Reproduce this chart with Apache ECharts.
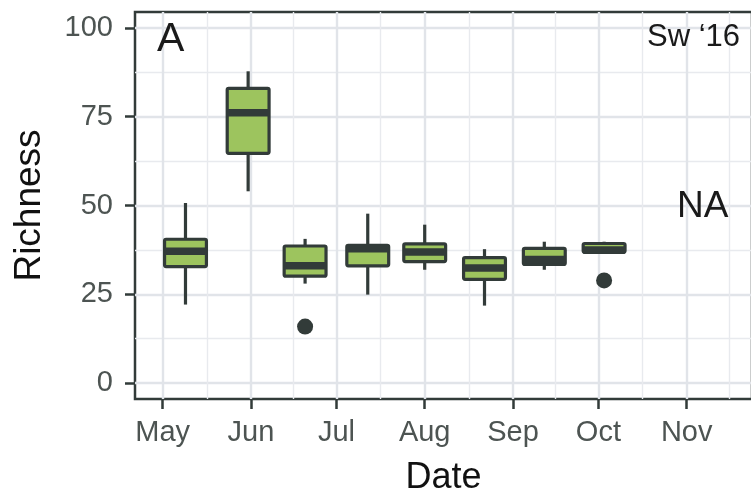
<!DOCTYPE html>
<html>
<head>
<meta charset="utf-8">
<title>Richness Sw '16</title>
<script src="https://cdn.jsdelivr.net/npm/echarts@6/dist/echarts.min.js"></script>
<style>
  html, body { margin: 0; padding: 0; background: #fff; }
  #chart { width: 751px; height: 495px; }
</style>
</head>
<body>
<div id="chart"></div>
<script>
// sampling dates and box stats
const boxDates = ['2016-05-09', '2016-05-31', '2016-06-20', '2016-07-12', '2016-08-01', '2016-08-22', '2016-09-12', '2016-10-03'];
const whiskerLow = [22.1, 54.0, 28.0, 24.9, 31.9, 21.8, 31.9, 36.8];
const q1 = [32.8, 64.7, 30.1, 33.0, 34.2, 29.2, 33.4, 36.8];
const median = [37.1, 76.1, 33.0, 37.8, 36.9, 32.4, 34.8, 37.5];
const q3 = [40.5, 83.0, 38.6, 38.8, 39.2, 35.3, 37.9, 39.3];
const whiskerHigh = [50.7, 87.8, 40.6, 47.7, 44.6, 37.7, 39.8, 39.8];

const outlierDates = ['2016-06-20', '2016-10-03'];
const outlierValues = [15.9, 28.9];

// axes
const monthTicks = ['2016-05-01', '2016-06-01', '2016-07-01', '2016-08-01', '2016-09-01', '2016-10-01', '2016-11-01'];
const monthLabels = ['May', 'Jun', 'Jul', 'Aug', 'Sep', 'Oct', 'Nov'];
const monthMinor = ['2016-05-16T12:00', '2016-06-16T00:00', '2016-07-16T12:00', '2016-08-16T12:00', '2016-09-16T00:00', '2016-10-16T12:00', '2016-11-16T00:00'];
const xLimits = ['2016-04-21T06:30', '2016-11-23T22:20'];
const yTicks = [0, 25, 50, 75, 100];
const yMinor = [12.5, 37.5, 62.5, 87.5];
const yLimits = [-4.5, 104.5];

const DAY = 86400000;
const BOX_WIDTH_DAYS = 14.7;

const toMs = (s) => Date.parse(s.length === 10 ? s + 'T00:00:00Z' : s + ':00Z');

const FONT = 'Liberation Sans';
const DARK = '#323b39';
const FILL = '#9dc45e';
const GRID_MAJOR = '#e1e4e9';
const GRID_MINOR = '#e8eaee';
const NO_LINE = { show: false, onZero: false, lineStyle: { color: 'rgba(0,0,0,0)', width: 0 } };

const boxData = boxDates.map((d, i) => [toMs(d), whiskerLow[i], q1[i], median[i], q3[i], whiskerHigh[i]]);
const outlierData = outlierDates.map((d, i) => [toMs(d), outlierValues[i]]);
const monthMs = monthTicks.map(toMs);

const renderBox = (params, api) => {
  const x = api.value(0);
  const low = api.coord([x, api.value(1)]);
  const lo = api.coord([x, api.value(2)]);
  const mid = api.coord([x, api.value(3)]);
  const hi = api.coord([x, api.value(4)]);
  const high = api.coord([x, api.value(5)]);
  const half = api.size([BOX_WIDTH_DAYS * DAY, 0])[0] / 2;
  return {
    type: 'group',
    children: [
      {
        type: 'line',
        shape: { x1: low[0], y1: low[1], x2: high[0], y2: high[1] },
        style: { stroke: DARK, lineWidth: 3.2 }
      },
      {
        type: 'rect',
        shape: { x: hi[0] - half, y: hi[1], width: half * 2, height: lo[1] - hi[1], r: 1.5 },
        style: { fill: FILL, stroke: DARK, lineWidth: 3.2, lineJoin: 'round' }
      },
      {
        type: 'line',
        shape: { x1: mid[0] - half, y1: mid[1], x2: mid[0] + half, y2: mid[1] },
        style: { stroke: DARK, lineWidth: 7.5 }
      }
    ]
  };
};

const chart = echarts.init(document.getElementById('chart'));
chart.setOption({
  animation: false,
  backgroundColor: '#fff',
  textStyle: { fontFamily: FONT },
  grid: {
    left: 135,
    top: 12,
    width: 617,
    height: 387,
    show: true,
    backgroundColor: 'transparent',
    borderColor: DARK,
    borderWidth: 2.5,
    containLabel: false,
    outerBoundsMode: 'none'
  },
  xAxis: [
    {
      type: 'value',
      min: toMs(xLimits[0]),
      max: toMs(xLimits[1]),
      name: 'Date',
      nameLocation: 'middle',
      nameGap: 61,
      nameTextStyle: { fontSize: 36, color: '#111', fontFamily: FONT },
      axisLine: NO_LINE,
      axisTick: {
        show: true,
        length: 10,
        customValues: monthMs,
        lineStyle: { color: DARK, width: 2.5 }
      },
      axisLabel: {
        customValues: monthMs,
        margin: 19,
        fontSize: 29,
        color: '#4d5452',
        fontFamily: FONT,
        formatter: (v) => monthLabels[monthMs.indexOf(v)] || ''
      },
      splitLine: { show: true, lineStyle: { color: GRID_MAJOR, width: 2.4 } }
    },
    {
      type: 'value',
      position: 'top',
      min: toMs(xLimits[0]),
      max: toMs(xLimits[1]),
      axisLine: NO_LINE,
      axisTick: { show: false, customValues: monthMinor.map(toMs) },
      axisLabel: { show: false },
      splitLine: { show: true, lineStyle: { color: GRID_MINOR, width: 1.4 } }
    }
  ],
  yAxis: [
    {
      type: 'value',
      min: yLimits[0],
      max: yLimits[1],
      name: 'Richness',
      nameLocation: 'middle',
      nameGap: 87,
      nameTextStyle: { fontSize: 37, color: '#111', fontFamily: FONT },
      axisLine: NO_LINE,
      axisTick: {
        show: true,
        length: 10,
        customValues: yTicks,
        lineStyle: { color: DARK, width: 2.5 }
      },
      axisLabel: {
        customValues: yTicks,
        margin: 22,
        fontSize: 29,
        color: '#4d5452',
        fontFamily: FONT
      },
      splitLine: { show: true, lineStyle: { color: GRID_MAJOR, width: 2.4 } }
    },
    {
      type: 'value',
      position: 'right',
      min: yLimits[0],
      max: yLimits[1],
      axisLine: NO_LINE,
      axisTick: { show: false, customValues: yMinor },
      axisLabel: { show: false },
      splitLine: { show: true, lineStyle: { color: GRID_MINOR, width: 1.4 } }
    }
  ],
  series: [
    {
      type: 'custom',
      xAxisIndex: 0,
      yAxisIndex: 0,
      data: boxData,
      encode: { x: 0, y: [1, 2, 3, 4, 5] },
      renderItem: renderBox,
      z: 3
    },
    {
      type: 'scatter',
      xAxisIndex: 0,
      yAxisIndex: 0,
      data: outlierData,
      symbol: 'circle',
      symbolSize: 16,
      itemStyle: { color: DARK, opacity: 1 },
      z: 4
    }
  ],
  graphic: {
    elements: [
      {
        type: 'text',
        left: 157,
        top: 19,
        z: 100,
        style: { text: 'A', fontSize: 41, fill: '#1a1a1a', fontFamily: FONT }
      },
      {
        type: 'text',
        right: 11,
        top: 22,
        z: 100,
        style: { text: 'Sw \u201816', fontSize: 31, fill: '#1a1a1a', fontFamily: FONT }
      },
      {
        type: 'text',
        left: 677,
        top: 188,
        z: 100,
        style: { text: 'NA', fontSize: 37, fill: '#1a1a1a', fontFamily: FONT }
      }
    ]
  }
});
</script>
</body>
</html>
